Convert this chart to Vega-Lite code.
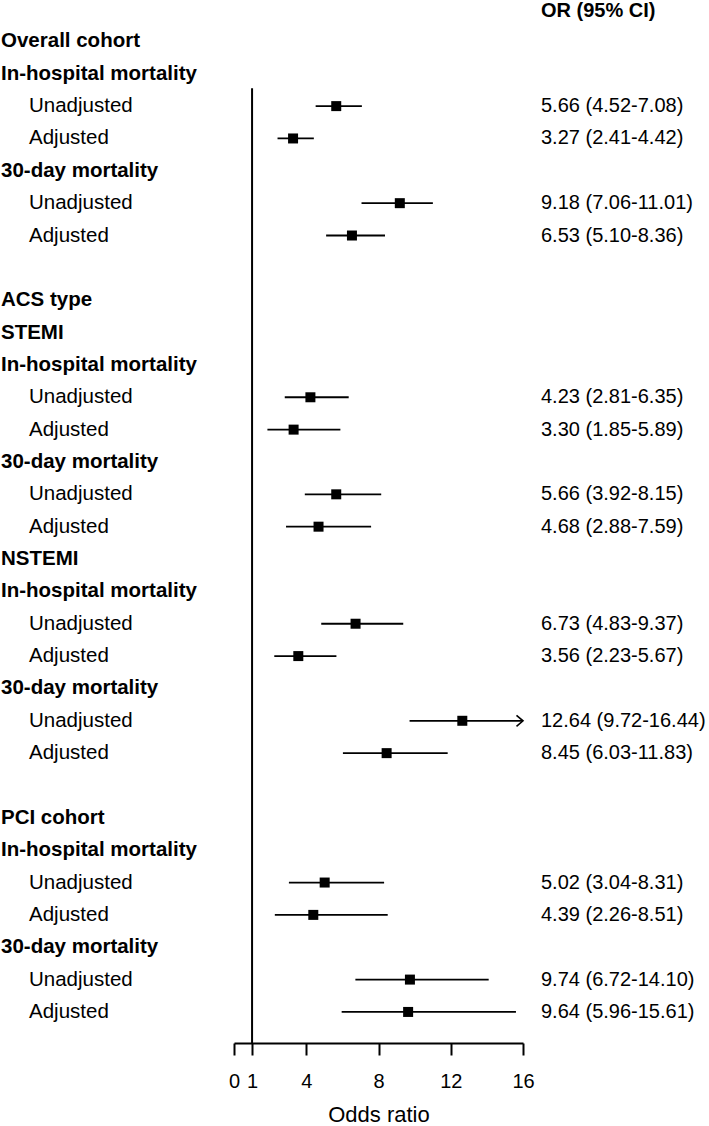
{
  "$schema": "https://vega.github.io/schema/vega-lite/v6.json",
  "padding": 0,
  "spacing": 0,
  "bounds": "flush",
  "background": "white",
  "config": {
    "view": {"stroke": null},
    "font": "Liberation Sans",
    "concat": {"spacing": 0}
  },
  "datasets": {
    "rows": [
      {"row": 1, "label": "Overall cohort", "type": "header"},
      {"row": 2, "label": "In-hospital mortality", "type": "header"},
      {"row": 3, "label": "Unadjusted", "type": "item", "or": 5.66, "lo": 4.52, "hi": 7.08, "ci": "5.66 (4.52-7.08)"},
      {"row": 4, "label": "Adjusted", "type": "item", "or": 3.27, "lo": 2.41, "hi": 4.42, "ci": "3.27 (2.41-4.42)"},
      {"row": 5, "label": "30-day mortality", "type": "header"},
      {"row": 6, "label": "Unadjusted", "type": "item", "or": 9.18, "lo": 7.06, "hi": 11.01, "ci": "9.18 (7.06-11.01)"},
      {"row": 7, "label": "Adjusted", "type": "item", "or": 6.53, "lo": 5.10, "hi": 8.36, "ci": "6.53 (5.10-8.36)"},
      {"row": 9, "label": "ACS type", "type": "header"},
      {"row": 10, "label": "STEMI", "type": "header"},
      {"row": 11, "label": "In-hospital mortality", "type": "header"},
      {"row": 12, "label": "Unadjusted", "type": "item", "or": 4.23, "lo": 2.81, "hi": 6.35, "ci": "4.23 (2.81-6.35)"},
      {"row": 13, "label": "Adjusted", "type": "item", "or": 3.30, "lo": 1.85, "hi": 5.89, "ci": "3.30 (1.85-5.89)"},
      {"row": 14, "label": "30-day mortality", "type": "header"},
      {"row": 15, "label": "Unadjusted", "type": "item", "or": 5.66, "lo": 3.92, "hi": 8.15, "ci": "5.66 (3.92-8.15)"},
      {"row": 16, "label": "Adjusted", "type": "item", "or": 4.68, "lo": 2.88, "hi": 7.59, "ci": "4.68 (2.88-7.59)"},
      {"row": 17, "label": "NSTEMI", "type": "header"},
      {"row": 18, "label": "In-hospital mortality", "type": "header"},
      {"row": 19, "label": "Unadjusted", "type": "item", "or": 6.73, "lo": 4.83, "hi": 9.37, "ci": "6.73 (4.83-9.37)"},
      {"row": 20, "label": "Adjusted", "type": "item", "or": 3.56, "lo": 2.23, "hi": 5.67, "ci": "3.56 (2.23-5.67)"},
      {"row": 21, "label": "30-day mortality", "type": "header"},
      {"row": 22, "label": "Unadjusted", "type": "item", "or": 12.64, "lo": 9.72, "hi": 16.44, "ci": "12.64 (9.72-16.44)"},
      {"row": 23, "label": "Adjusted", "type": "item", "or": 8.45, "lo": 6.03, "hi": 11.83, "ci": "8.45 (6.03-11.83)"},
      {"row": 25, "label": "PCI cohort", "type": "header"},
      {"row": 26, "label": "In-hospital mortality", "type": "header"},
      {"row": 27, "label": "Unadjusted", "type": "item", "or": 5.02, "lo": 3.04, "hi": 8.31, "ci": "5.02 (3.04-8.31)"},
      {"row": 28, "label": "Adjusted", "type": "item", "or": 4.39, "lo": 2.26, "hi": 8.51, "ci": "4.39 (2.26-8.51)"},
      {"row": 29, "label": "30-day mortality", "type": "header"},
      {"row": 30, "label": "Unadjusted", "type": "item", "or": 9.74, "lo": 6.72, "hi": 14.10, "ci": "9.74 (6.72-14.10)"},
      {"row": 31, "label": "Adjusted", "type": "item", "or": 9.64, "lo": 5.96, "hi": 15.61, "ci": "9.64 (5.96-15.61)"}
    ],
    "colhead": [{"row": 0, "text": "OR (95% CI)"}],
    "ref": [{"ref": 1, "top": 2.45, "bottom": 31.96}]
  },
  "hconcat": [
    {
      "width": 234,
      "height": 1043,
      "data": {"name": "rows"},
      "layer": [
        {
          "transform": [{"filter": "datum.type === 'header'"}],
          "mark": {"type": "text", "align": "left", "baseline": "middle", "fontSize": 20.5, "fontWeight": "bold", "dx": 1, "color": "black"},
          "encoding": {
            "x": {"value": 0},
            "y": {"field": "row", "type": "quantitative", "scale": {"domain": [-0.28, 31.96], "reverse": true, "nice": false, "zero": false}, "axis": null},
            "text": {"field": "label"}
          }
        },
        {
          "transform": [{"filter": "datum.type === 'item'"}],
          "mark": {"type": "text", "align": "left", "baseline": "middle", "fontSize": 20.5, "dx": 29, "color": "black"},
          "encoding": {
            "x": {"value": 0},
            "y": {"field": "row", "type": "quantitative", "scale": {"domain": [-0.28, 31.96], "reverse": true, "nice": false, "zero": false}, "axis": null},
            "text": {"field": "label"}
          }
        }
      ]
    },
    {
      "width": 289,
      "height": 1043,
      "layer": [
        {
          "data": {"name": "ref"},
          "mark": {"type": "rule", "color": "black", "strokeWidth": 2},
          "encoding": {
            "x": {"field": "ref", "type": "quantitative"},
            "y": {"field": "top", "type": "quantitative"},
            "y2": {"field": "bottom"}
          }
        },
        {
          "data": {"name": "rows"},
          "transform": [{"filter": "datum.type === 'item'"}],
          "mark": {"type": "rule", "color": "black", "strokeWidth": 1.8},
          "encoding": {
            "x": {"field": "lo", "type": "quantitative"},
            "x2": {"field": "hi"},
            "y": {"field": "row", "type": "quantitative"}
          }
        },
        {
          "data": {"name": "rows"},
          "transform": [{"filter": "datum.type === 'item'"}],
          "mark": {"type": "square", "color": "black", "filled": true, "size": 100, "opacity": 1},
          "encoding": {
            "x": {"field": "or", "type": "quantitative"},
            "y": {"field": "row", "type": "quantitative"}
          }
        },
        {
          "data": {"name": "rows"},
          "transform": [{"filter": "datum.type === 'item' && datum.hi > 16"}],
          "mark": {"type": "point", "shape": "M-1.3,-1.1L0,0L-1.3,1.1", "filled": false, "stroke": "black", "strokeWidth": 1.6, "size": 100, "opacity": 1},
          "encoding": {
            "x": {"field": "hi", "type": "quantitative"},
            "y": {"field": "row", "type": "quantitative"}
          }
        }
      ],
      "encoding": {
        "x": {
          "type": "quantitative",
          "scale": {"domain": [0, 16], "clamp": true, "nice": false, "zero": false},
          "axis": {
            "values": [0, 1, 4, 8, 12, 16],
            "title": "Odds ratio",
            "grid": false,
            "tickSize": 12,
            "tickWidth": 2,
            "tickColor": "black",
            "domainColor": "black",
            "domainWidth": 2,
            "labelFontSize": 20,
            "labelColor": "black",
            "labelPadding": 16,
            "labelFlush": false,
            "labelOverlap": false,
            "labelBound": false,
            "titleFontSize": 22,
            "titleFontWeight": "normal",
            "titleColor": "black",
            "titlePadding": 13
          }
        },
        "y": {
          "type": "quantitative",
          "scale": {"domain": [-0.28, 31.96], "reverse": true, "nice": false, "zero": false},
          "axis": null
        }
      }
    },
    {
      "width": 186,
      "height": 1043,
      "layer": [
        {
          "data": {"name": "colhead"},
          "mark": {"type": "text", "align": "left", "baseline": "middle", "fontSize": 20, "fontWeight": "bold", "dx": 18, "dy": 1.5, "color": "black"},
          "encoding": {
            "x": {"value": 0},
            "y": {"field": "row", "type": "quantitative", "scale": {"domain": [-0.28, 31.96], "reverse": true, "nice": false, "zero": false}, "axis": null},
            "text": {"field": "text"}
          }
        },
        {
          "data": {"name": "rows"},
          "transform": [{"filter": "datum.type === 'item'"}],
          "mark": {"type": "text", "align": "left", "baseline": "middle", "fontSize": 20, "dx": 18, "color": "black"},
          "encoding": {
            "x": {"value": 0},
            "y": {"field": "row", "type": "quantitative", "scale": {"domain": [-0.28, 31.96], "reverse": true, "nice": false, "zero": false}, "axis": null},
            "text": {"field": "ci"}
          }
        }
      ]
    }
  ]
}
